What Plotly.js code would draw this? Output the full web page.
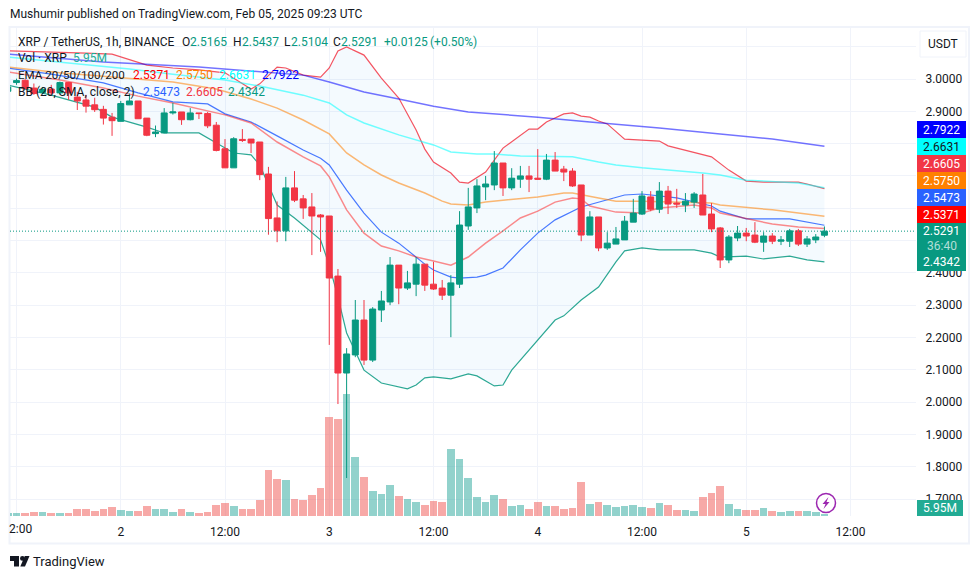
<!DOCTYPE html>
<html>
<head>
<meta charset="utf-8">
<script src="https://cdn.plot.ly/plotly-3.0.1.min.js"></script>
<style>html,body{margin:0;padding:0;background:#fff}#chart{width:980px;height:579px}</style>
</head>
<body>
<div id="chart"></div>
<script>
// Hourly candles, first candle = 2025-02-01 11:00
const openP=[2.962,2.989,2.996,2.972,2.958,2.969,2.957,2.989,2.944,2.935,2.920,2.906,2.882,2.869,2.920,2.932,2.879,2.831,2.833,2.895,2.898,2.874,2.895,2.893,2.857,2.784,2.725,2.813,2.814,2.805,2.706,2.570,2.530,2.663,2.629,2.604,2.579,2.576,2.390,2.090,2.146,2.254,2.130,2.285,2.310,2.424,2.353,2.365,2.427,2.365,2.353,2.331,2.365,2.545,2.601,2.666,2.672,2.740,2.663,2.690,2.700,2.693,2.690,2.749,2.721,2.715,2.672,2.517,2.573,2.477,2.489,2.502,2.557,2.582,2.635,2.597,2.653,2.616,2.610,2.619,2.641,2.582,2.539,2.440,2.508,2.523,2.517,2.495,2.514,2.498,2.498,2.530,2.489,2.502,2.5165];
const highP=[2.979,3.001,2.999,2.986,2.975,2.982,2.992,2.991,2.960,2.951,2.942,2.917,2.895,2.932,2.955,2.932,2.879,2.856,2.910,2.926,2.898,2.910,2.895,2.898,2.867,2.814,2.820,2.845,2.814,2.805,2.728,2.621,2.697,2.715,2.641,2.647,2.582,2.576,2.412,2.167,2.316,2.316,2.294,2.344,2.449,2.424,2.406,2.449,2.427,2.434,2.378,2.393,2.591,2.663,2.690,2.700,2.777,2.740,2.724,2.731,2.731,2.783,2.768,2.774,2.731,2.724,2.672,2.591,2.573,2.526,2.542,2.576,2.629,2.653,2.653,2.681,2.669,2.660,2.647,2.650,2.706,2.616,2.542,2.517,2.545,2.539,2.557,2.526,2.523,2.514,2.536,2.536,2.514,2.520,2.5437];
const lowP=[2.960,2.982,2.968,2.951,2.954,2.951,2.954,2.935,2.904,2.896,2.898,2.859,2.824,2.869,2.920,2.877,2.823,2.820,2.833,2.890,2.858,2.872,2.876,2.848,2.776,2.725,2.725,2.805,2.771,2.687,2.518,2.495,2.498,2.619,2.567,2.455,2.465,2.177,1.994,1.765,2.139,2.115,2.124,2.248,2.300,2.303,2.347,2.328,2.344,2.347,2.316,2.201,2.353,2.533,2.585,2.625,2.656,2.638,2.656,2.663,2.650,2.690,2.687,2.715,2.684,2.666,2.498,2.517,2.467,2.471,2.489,2.502,2.557,2.579,2.591,2.585,2.582,2.601,2.588,2.601,2.579,2.526,2.415,2.430,2.498,2.498,2.492,2.465,2.489,2.486,2.480,2.483,2.480,2.492,2.5104];
const closeP=[2.975,2.995,2.970,2.955,2.968,2.957,2.989,2.957,2.932,2.916,2.905,2.879,2.871,2.924,2.932,2.877,2.826,2.836,2.895,2.898,2.874,2.895,2.893,2.855,2.779,2.725,2.815,2.810,2.802,2.704,2.568,2.530,2.663,2.625,2.601,2.576,2.573,2.384,2.090,2.149,2.254,2.130,2.288,2.313,2.424,2.353,2.369,2.427,2.362,2.350,2.331,2.369,2.548,2.604,2.669,2.675,2.740,2.663,2.693,2.700,2.690,2.690,2.749,2.715,2.712,2.669,2.517,2.573,2.477,2.492,2.505,2.560,2.585,2.638,2.597,2.653,2.613,2.613,2.622,2.644,2.579,2.536,2.440,2.511,2.523,2.514,2.495,2.514,2.498,2.502,2.530,2.489,2.505,2.511,2.5291];
const volumeM=[9,9,9,12,12,9,9,9,21,21,15,21,27,18,15,15,30,21,21,12,21,12,9,12,33,39,30,21,21,48,138,111,108,51,48,63,84,297,291,366,177,117,75,66,93,60,51,42,33,45,42,201,171,114,57,42,63,51,30,33,21,42,30,30,21,24,102,36,42,33,27,30,33,27,24,39,33,18,18,15,57,69,90,36,21,18,18,24,15,12,15,15,15,12,5.95];

// Indicators: candle index of each reading, and the reading
const bbUpperIdx=[0,5,9,12,14,16,19,22,25,26,28,29,31,32,34,36,37,38,39,41,43,45,47,48,49,51,52,53,54,55,57,60,61,62,64,65,66,67,68,69,71,73,75,76,78,81,83,85,87,91,92,94];
const bbUpperVal=[3.087,3.084,3.080,3.077,3.059,3.043,3.034,3.028,3.019,3.003,2.969,2.985,3.037,3.034,3.012,3.006,3.034,3.087,3.099,3.074,3.003,2.941,2.842,2.783,2.743,2.709,2.681,2.678,2.694,2.712,2.786,2.845,2.845,2.867,2.892,2.895,2.885,2.882,2.870,2.861,2.814,2.811,2.808,2.793,2.780,2.759,2.718,2.684,2.681,2.681,2.675,2.6605];
const bbBasisIdx=[0,5,11,15,19,23,25,28,31,34,36,37,39,41,43,45,48,49,51,52,54,55,57,59,61,63,66,68,71,73,77,81,82,85,90,94];
const bbBasisVal=[3.034,3.015,2.988,2.957,2.929,2.923,2.892,2.867,2.824,2.780,2.755,2.734,2.656,2.585,2.526,2.492,2.427,2.409,2.387,2.384,2.387,2.393,2.415,2.471,2.523,2.564,2.604,2.619,2.641,2.644,2.632,2.607,2.591,2.567,2.567,2.5473];
const bbLowerIdx=[0,5,10,12,16,18,22,24,26,28,29,30,31,33,35,36,37,38,39,41,43,44,46,47,48,49,51,53,54,56,57,58,59,61,63,64,66,68,70,71,73,75,79,81,82,85,87,90,92,94];
const bbLowerVal=[2.981,2.950,2.913,2.882,2.851,2.833,2.833,2.802,2.771,2.765,2.734,2.672,2.610,2.570,2.526,2.502,2.424,2.325,2.214,2.099,2.059,2.053,2.041,2.053,2.075,2.078,2.072,2.087,2.081,2.050,2.053,2.099,2.130,2.195,2.254,2.267,2.316,2.356,2.434,2.468,2.477,2.471,2.471,2.461,2.449,2.452,2.443,2.452,2.440,2.4342];
const ema20Idx=[0,6,11,15,19,25,28,31,34,36,37,39,41,43,45,47,49,51,53,55,57,59,61,63,65,66,67,70,73,75,79,81,82,85,88,91,94];
const ema20Val=[3.022,2.997,2.972,2.947,2.926,2.889,2.864,2.805,2.759,2.731,2.697,2.595,2.523,2.483,2.468,2.449,2.437,2.424,2.449,2.492,2.530,2.570,2.591,2.619,2.632,2.629,2.607,2.588,2.585,2.601,2.610,2.601,2.585,2.567,2.551,2.542,2.5371];
const ema50Idx=[0,6,12,19,24,28,31,34,37,39,41,43,45,48,50,51,53,55,57,61,64,65,68,70,73,78,81,82,88,94];
const ema50Val=[3.037,3.019,3.006,2.991,2.969,2.938,2.910,2.873,2.830,2.771,2.734,2.703,2.678,2.647,2.622,2.613,2.610,2.619,2.625,2.635,2.647,2.647,2.632,2.622,2.622,2.619,2.616,2.610,2.595,2.5750];
const ema100Idx=[0,6,14,19,25,29,34,37,39,41,45,49,51,54,56,59,65,68,70,73,75,80,82,85,91,94];
const ema100Val=[3.068,3.053,3.031,3.015,2.997,2.978,2.950,2.926,2.889,2.864,2.827,2.796,2.774,2.768,2.768,2.762,2.759,2.743,2.734,2.725,2.721,2.709,2.703,2.687,2.678,2.6631];
const ema200Idx=[0,11,22,29,34,37,41,45,49,53,56,61,67,71,75,82,88,94];
const ema200Val=[3.077,3.053,3.037,3.022,3.012,2.991,2.960,2.938,2.916,2.898,2.892,2.882,2.867,2.858,2.848,2.830,2.814,2.7922];

const xTickTimes=['2025-02-01 12:00','2025-02-02 00:00','2025-02-02 12:00','2025-02-03 00:00','2025-02-03 12:00','2025-02-04 00:00','2025-02-04 12:00','2025-02-05 00:00','2025-02-05 12:00'];
const xTickText=['','2','12:00','3','12:00','4','12:00','5','12:00'];
const yTickVals=[1.7,1.8,1.9,2.0,2.1,2.2,2.3,2.4,2.5,2.6,2.7,2.8,2.9,3.0,3.1];
const yTickText=['1.7000','1.8000','1.9000','2.0000','2.1000','2.2000','2.3000','2.4000','','','','','2.9000','3.0000',''];

const GREEN='#089981',RED='#F23645';
const FONT='Roboto, sans-serif',INK='#131722';
const times=openP.map((_,i)=>new Date(Date.UTC(2025,1,1,11+i)).toISOString().slice(0,19));
const at=idx=>idx.map(i=>times[i]);

// pane geometry in page pixels
const L=10,R=916,T=28,B=516,W=980,H=579;
const px=x=>(x-L)/(R-L), py=y=>(B-y)/(B-T);

function line(name,idx,val,color,width,extra){
  return Object.assign({type:'scatter',mode:'lines',name,x:at(idx),y:val,yaxis:'y2',
    line:{color,width,shape:'linear'},hoverinfo:'skip',showlegend:false},extra||{});
}
const volColors=openP.map((o,i)=>closeP[i]>=o?'rgba(38,166,154,0.5)':'rgba(239,83,80,0.5)');
const traces=[
  {type:'bar',x:times,y:volumeM,yaxis:'y',marker:{color:volColors,line:{width:0}},width:3190000,hoverinfo:'skip',showlegend:false},
  line('BB lower',bbLowerIdx,bbLowerVal,'rgba(8,153,129,0.85)',1.2),
  line('BB upper',bbUpperIdx,bbUpperVal,'rgba(242,54,69,0.85)',1.2,{fill:'tonexty',fillcolor:'rgba(33,150,243,0.05)'}),
  line('BB basis',bbBasisIdx,bbBasisVal,'rgba(41,98,255,0.85)',1.2),
  line('EMA 200',ema200Idx,ema200Val,'rgba(0,0,255,0.55)',1.5),
  line('EMA 100',ema100Idx,ema100Val,'rgba(0,255,255,0.55)',1.5),
  line('EMA 50',ema50Idx,ema50Val,'rgba(255,128,0,0.55)',1.5),
  line('EMA 20',ema20Idx,ema20Val,'rgba(255,0,0,0.45)',1.5),
  {type:'candlestick',x:times,open:openP,high:highP,low:lowP,close:closeP,yaxis:'y3',
   increasing:{line:{color:GREEN,width:1},fillcolor:GREEN},
   decreasing:{line:{color:RED,width:1},fillcolor:RED},
   whiskerwidth:0,hoverinfo:'skip',showlegend:false}
];

function txt(x,y,text,color,size,anchor,weight){
  return {xref:'paper',yref:'paper',x:px(x),y:py(y),xanchor:anchor||'left',yanchor:'middle',
    text,showarrow:false,font:{family:FONT,size:size||12,color:color||INK,weight:weight||400},borderpad:0,borderwidth:0};
}
const annotations=[
  txt(10,14,'Mushumir published on TradingView.com, Feb 05, 2025 09:23 UTC',INK,12),
  txt(18,42,'XRP / TetherUS, 1h, BINANCE'),
  txt(182,42,'O'),txt(190,42,'2.5165',GREEN),
  txt(233,42,'H'),txt(242,42,'2.5437',GREEN),
  txt(284,42,'L'),txt(291,42,'2.5104',GREEN),
  txt(333,42,'C'),txt(341,42,'2.5291',GREEN),
  txt(384,42,'+0.0125',GREEN),txt(430,42,'(+0.50%)',GREEN),
  txt(18,58,'Vol · XRP'),txt(73,58,'5.95M','#22AB94'),
  txt(18,75,'EMA 20/50/100/200',INK,11.6),
  txt(133,75,'2.5371','#FF0000'),txt(176,75,'2.5750','#FF8000'),txt(219,75,'2.6631','#00FFFF'),txt(262,75,'2.7922','#0000FF'),
  txt(18,92,'BB (20, SMA, close, 2)'),
  txt(143,92,'2.5473','#2962FF'),txt(186,92,'2.6605',RED),txt(228,92,'2.4342',GREEN),
  txt(943,44,'USDT',INK,12,'center'),
  txt(941.5,130,'2.7922','#fff',12,'center'),
  txt(941.5,147,'2.6631',INK,12,'center'),
  txt(941.5,164,'2.6605','#fff',12,'center'),
  txt(941.5,181,'2.5750','#fff',12,'center'),
  txt(941.5,198,'2.5473','#fff',12,'center'),
  txt(941.5,215,'2.5371','#fff',12,'center'),
  txt(941.5,231,'2.5291','#fff',12,'center'),
  txt(941.5,246,'36:40','rgba(255,255,255,0.7)',12,'center'),
  txt(941.5,262,'2.4342','#fff',12,'center'),
  txt(940,508,'5.95M','#fff',12,'center'),
  txt(20.5,529,'2:00',INK,12,'center'),
  txt(33,561,'TradingView',INK,13)
];

function box(x0,y0,x1,y1,color){
  return {type:'rect',xref:'paper',yref:'paper',x0:px(x0),x1:px(x1),y0:py(y0),y1:py(y1),fillcolor:color,line:{width:0},layer:'above'};
}
function poly(points,color,stroke,sw){
  const d='M'+points.map(p=>px(p[0])+','+py(p[1])).join(' L')+' Z';
  return {type:'path',xref:'paper',yref:'paper',path:d,fillcolor:color,line:{width:sw||0,color:stroke||color},layer:'above'};
}
function circle(cx,cy,r,fill,stroke,sw){
  return {type:'circle',xref:'paper',yref:'paper',x0:px(cx-r),x1:px(cx+r),y0:py(cy-r),y1:py(cy+r),fillcolor:fill,line:{color:stroke||fill,width:sw||0},layer:'above'};
}
const frame='#f0f3fa';
const shapes=[
  // chart frame
  {type:'rect',xref:'paper',yref:'paper',x0:px(9.5),x1:px(969),y0:py(543.5),y1:py(27),fillcolor:'rgba(0,0,0,0)',line:{color:frame,width:2},layer:'below'},
  // last price line
  {type:'line',xref:'paper',yref:'y2',x0:0,x1:1,y0:closeP[closeP.length-1],y1:closeP[closeP.length-1],line:{color:GREEN,width:1,dash:'1px,2px'},layer:'above'},
  // USDT box
  {type:'rect',xref:'paper',yref:'paper',x0:px(920),x1:px(966),y0:py(57),y1:py(31),fillcolor:'#fff',line:{color:frame,width:1},layer:'above'},
  // price scale labels
  box(917,121,966,138,'#0000FF'),box(917,138,966,155,'#00FFFF'),box(917,155,966,172,RED),
  box(917,172,966,189,'#FF8000'),box(917,189,966,206,'#2962FF'),box(917,206,966,223,'#FF0000'),
  box(917,223,966,271,GREEN),box(917,500,963,516,'#22AB94'),
  // purple bolt badge
  circle(826,503,9.5,'#fff','#9C27B0',1.5),
  poly([[828.5,497],[822.5,504],[825.5,504],[823.5,509],[829.5,502],[826.5,502]],'#9C27B0'),
  // TradingView logo
  poly([[10,556],[19,556],[19,566.5],[14,566.5],[14,561],[10,561]],INK),
  circle(22.4,558.4,2.4,INK),
  poly([[29.5,556],[25,566.5],[20.3,566.5],[24.8,556]],INK)
];

const pricesTop=3+(79-T)/323.1, pricesBot=3-(B-79)/323.1;
const yHidden={overlaying:'y',side:'right',range:[pricesBot,pricesTop],fixedrange:true};
const layout={
  width:W,height:H,autosize:false,
  margin:{l:L,r:W-R,t:T,b:H-B,pad:0},
  paper_bgcolor:'#fff',plot_bgcolor:'#fff',
  font:{family:FONT,size:12,color:INK},
  showlegend:false,hovermode:false,dragmode:false,bargap:0,
  boxgap:0.17,boxgroupgap:0.17,
  xaxis:{type:'date',range:['2025-02-01 11:15:06','2025-02-05 19:32:24'],tickmode:'array',tickvals:xTickTimes,ticktext:xTickText,
    showgrid:true,gridcolor:frame,gridwidth:1,zeroline:false,showline:false,ticks:'outside',ticklen:5,tickcolor:'rgba(0,0,0,0)',tickangle:0,
    tickfont:{family:FONT,size:12,color:INK},rangeslider:{visible:false},fixedrange:true,automargin:false},
  yaxis:{range:[0,(B-T)*3],visible:false,fixedrange:true,automargin:false},
  yaxis2:Object.assign({},yHidden,{tickmode:'array',tickvals:yTickVals,ticktext:yTickText,showgrid:true,gridcolor:frame,gridwidth:1,
    zeroline:false,showline:false,ticks:'outside',ticklen:6,tickcolor:'rgba(0,0,0,0)',tickfont:{family:FONT,size:12,color:INK},automargin:false}),
  yaxis3:Object.assign({},yHidden,{visible:false,showgrid:false,zeroline:false,automargin:false}),
  annotations,shapes
};
Plotly.newPlot('chart',traces,layout,{staticPlot:true,displayModeBar:false});
</script>
</body>
</html>
